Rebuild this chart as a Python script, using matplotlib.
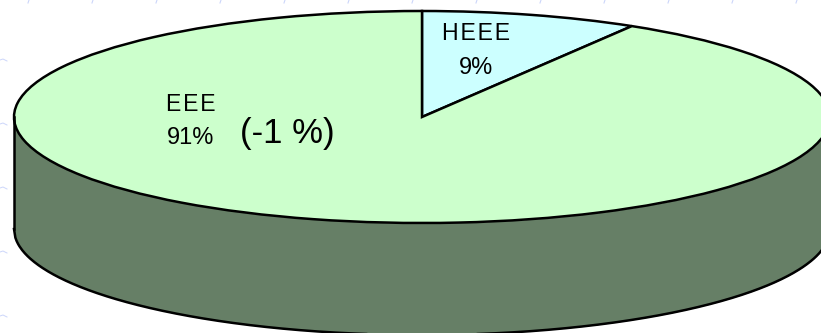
import matplotlib

matplotlib.use("Agg")
import matplotlib.pyplot as plt
import numpy as np

W, H = 821, 333

categories = ["HEEE", "EEE"]
shares = [8.6, 91.4]  # labels round these to 9% / 91%
percent_labels = ["9%", "91%"]
change_label = "(-1 %)"

COLORS = ["#ccffff", "#ccffcc"]
WALL = "#667f66"
EDGE = "#000000"
MARK = "#ccd6fa"

# ellipse box in pixels, the right side runs off the image
LEFT, RIGHT, TOP, BOTTOM = 14, 830, 11, 223
DEPTH = 112 / ((BOTTOM - TOP) / 2)

plt.rcParams["font.family"] = ["Liberation Sans", "DejaVu Sans"]

fig = plt.figure(figsize=(W / 100, H / 100), dpi=100, facecolor="white")


def spaced(text):
    return "\u200a".join(text)


def label(x, y, text, size):
    fig.text(x / W, 1 - y / H, text, fontsize=size, color="#000000", ha="center", va="center")


# faint background pattern at the edges of the slide
bg = fig.add_axes([0, 0, 1, 1])
bg.set_xlim(0, W)
bg.set_ylim(H, 0)
bg.axis("off")
for x in np.arange(29, W, 64):
    bg.plot([x, x - 1], [0, 3], color=MARK, lw=0.8)
for y in np.arange(60, H, 64):
    bg.plot([0, 3, 5, 7], [y, y - 1, y, y + 1], color=MARK, lw=0.7)

ax = fig.add_axes(
    [LEFT / W, 1 - BOTTOM / H, (RIGHT - LEFT) / W, (BOTTOM - TOP) / H]
)

# side wall of the disc
xs = np.linspace(-1, 1, 600)
rim = -np.sqrt(1 - xs**2)
ax.fill_between(xs, rim, rim - DEPTH, color=WALL, lw=0, clip_on=False)
ax.plot(xs, rim - DEPTH, color=EDGE, lw=1.8, clip_on=False)
ax.plot([-1, -1], [0, -DEPTH], color=EDGE, lw=1.8, clip_on=False)

ax.pie(
    shares,
    colors=COLORS,
    startangle=90,
    counterclock=False,
    radius=1,
    wedgeprops={"edgecolor": EDGE, "linewidth": 1.8, "clip_on": False},
)
ax.set_aspect("auto")
ax.set_xlim(-1, 1)
ax.set_ylim(-1, 1)
ax.patch.set_alpha(0)

label(476, 34, spaced(categories[0]), 16.6)
label(476, 68, percent_labels[0], 17)
label(191, 104, spaced(categories[1]), 16.6)
label(191, 138, percent_labels[1], 17)
label(287, 134, change_label, 25)

fig.savefig("out.png", dpi=100, facecolor="white")
plt.close(fig)
